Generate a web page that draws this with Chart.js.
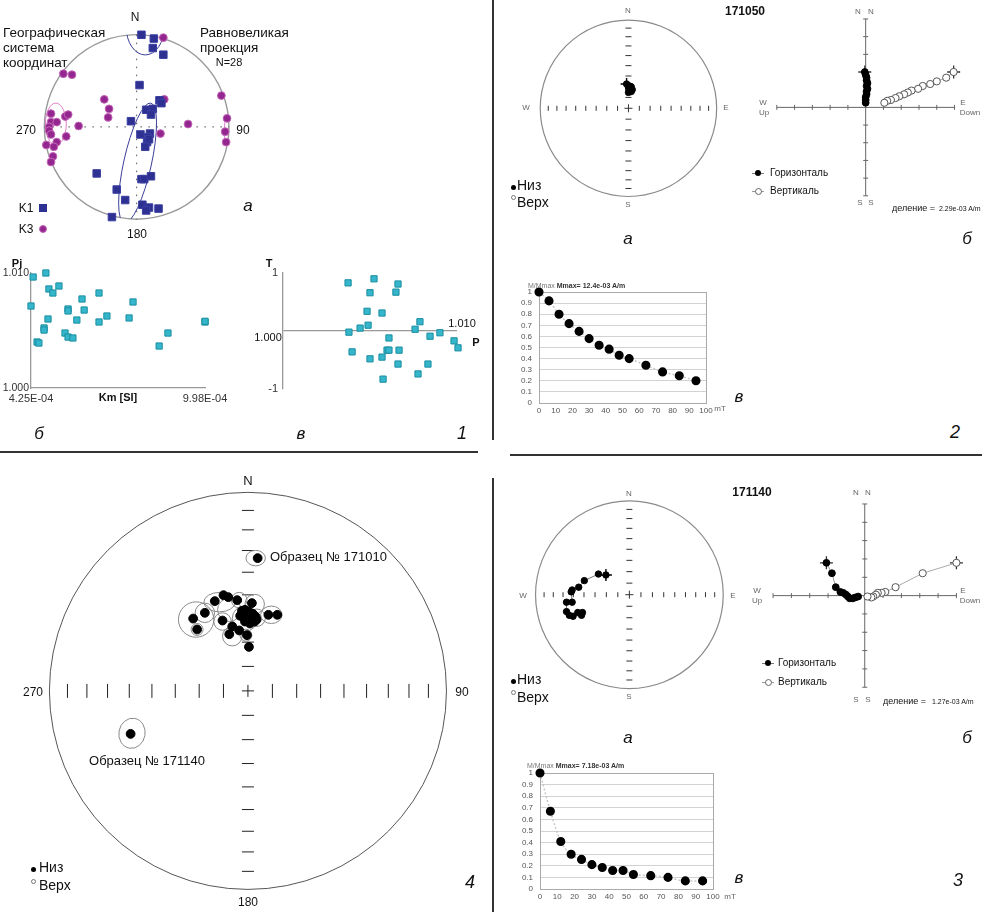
<!DOCTYPE html>
<html>
<head>
<meta charset="utf-8">
<script src="https://cdn.jsdelivr.net/npm/chart.js@4.4.0/dist/chart.umd.min.js"></script>
<style>
  body { margin: 0; background: #fff; width: 982px; height: 912px; position: relative; overflow: hidden;
         font-family: 'Liberation Sans', Arial, sans-serif; color: #111; }
  canvas { position: absolute; }
  .t { position: absolute; white-space: nowrap; line-height: 1; }
  .f14 { font-size: 14px; } .f135 { font-size: 13.5px; } .f13 { font-size: 13px; } .f12 { font-size: 12px; }
  .f11 { font-size: 11px; } .f10 { font-size: 10px; } .f9 { font-size: 9px; } .f7 { font-size: 7px; }
  .b11 { font-size: 11px; font-weight: bold; } .b12 { font-size: 12px; font-weight: bold; }
  .g8 { font-size: 8px; color: #666; }
  .it17 { font-size: 17px; font-style: italic; } .it18 { font-size: 18px; font-style: italic; }
  .mk { position: absolute; box-sizing: border-box; }
  .rule { position: absolute; background: #333; }
</style>
</head>
<body>
<script>
// --- AMS stereonet (panel 1a), equal-area coordinates, unit circle ---
const k1East = [0.052, 0.186, 0.175, 0.289, 0.031, 0.247, 0.268, 0.103, 0.175, 0.155, -0.062, 0.041, 0.144, 0.124,
                0.113, 0.093, -0.433, 0.052, 0.082, 0.155, -0.216, -0.124, 0.062, 0.134, 0.103, 0.237, -0.268, 0.134];
const k1North = [1.000, 0.959, 0.856, 0.784, 0.454, 0.289, 0.258, 0.186, 0.196, 0.134, 0.062, -0.082, -0.072, -0.113,
                 -0.165, -0.216, -0.505, -0.567, -0.567, -0.536, -0.680, -0.794, -0.845, -0.876, -0.907, -0.887, -0.979, -0.134];
const k3East = [0.289, -0.794, -0.701, -0.351, -0.299, -0.309, 0.299, 0.918, -0.928, -0.773, -0.742, -0.928, -0.866, -0.948,
                -0.948, -0.928, -0.629, -0.763, 0.557, 0.979, 0.959, 0.969, 0.258, -0.866, -0.979, -0.897, -0.907, -0.928];
const k3North = [0.969, 0.577, 0.567, 0.299, 0.196, 0.103, 0.299, 0.340, 0.144, 0.113, 0.134, 0.052, 0.052, 0.000,
                 -0.041, -0.082, 0.010, -0.103, 0.031, 0.093, -0.052, -0.165, -0.072, -0.165, -0.196, -0.216, -0.320, -0.381];
// confidence ellipses: [east, north, semi-axis x, semi-axis y, rotation deg]
const k1Ovals = [[0.010, -0.392, 0.15, 0.665, 12.5], [0.093, 1.082, 0.206, 0.30, 0]];
const k3Ovals = [[-0.876, 0.031, 0.113, 0.227, 0], [0.979, -0.041, 0.03, 0.14, 0]];

// --- Pj vs Km (1б) and T vs P (1в) ---
const kmValues = [4.32e-4, 4.74e-4, 4.84e-4, 4.97e-4, 5.17e-4, 4.25e-4, 4.81e-4, 4.68e-4, 4.68e-4, 4.45e-4, 4.51e-4, 5.47e-4,
                  5.47e-4, 5.37e-4, 5.47e-4, 5.63e-4, 5.76e-4, 5.93e-4, 6.00e-4, 6.49e-4, 6.49e-4, 6.75e-4, 7.48e-4, 7.61e-4,
                  8.47e-4, 8.76e-4, 9.98e-4, 9.98e-4];
const pjValues = [1.00965, 1.0100, 1.00861, 1.00826, 1.00887, 1.00713, 1.00600, 1.00522, 1.00504, 1.00400, 1.00391, 1.00687,
                  1.00670, 1.00478, 1.00443, 1.00435, 1.00591, 1.00774, 1.00678, 1.00826, 1.00574, 1.00626, 1.00609, 1.00748,
                  1.00365, 1.00478, 1.00574, 1.00580];
const pValues = [1.00374, 1.00523, 1.00661, 1.00500, 1.00649, 1.00483, 1.00569, 1.00787, 1.00443, 1.00489, 1.00759, 1.00379,
                 1.00845, 1.00902, 1.00609, 1.00983, 1.01006, 1.00397, 1.00598, 1.00609, 1.00667, 1.00500, 1.00569, 1.00661,
                 1.00833, 1.00776, 1.00575];
const tValues = [0.83, 0.90, 0.81, 0.66, 0.67, 0.34, 0.31, 0.16, 0.05, 0.10, 0.03, -0.02, -0.09, -0.03, -0.12, -0.17, -0.29,
                 -0.36, -0.33, -0.33, -0.33, -0.48, -0.45, -0.57, -0.57, -0.74, -0.83];

// --- sample 171050 ---
const s050East = [-0.021, 0.011, 0.032, 0.000, 0.021, 0.043, 0.011, 0.032, 0.000];
const s050North = [0.277, 0.255, 0.245, 0.234, 0.223, 0.213, 0.202, 0.191, 0.181];
const z050HorE = [-0.05, 0, 0.05, 0.05, 0.1, 0.05, 0.1, 0.05, 0.05, 0, 0, 0];
const z050HorN = [2.0, 1.84, 1.68, 1.53, 1.37, 1.21, 1.05, 0.89, 0.74, 0.58, 0.42, 0.26];
const z050VerH = [4.95, 4.53, 4.0, 3.63, 3.21, 2.95, 2.58, 2.37, 2.16, 1.89, 1.68, 1.42, 1.21, 1.05];
const z050VerZ = [2.0, 1.68, 1.47, 1.32, 1.21, 1.05, 0.95, 0.84, 0.74, 0.63, 0.53, 0.42, 0.37, 0.26];

// --- sample 171140 ---
const s140East = [-0.25, -0.33, -0.48, -0.54, -0.61, -0.62, -0.61, -0.67, -0.67, -0.64, -0.60, -0.55, -0.50, -0.51];
const s140North = [0.21, 0.22, 0.15, 0.08, 0.05, 0.03, -0.08, -0.08, -0.18, -0.22, -0.23, -0.19, -0.19, -0.22];
const z140HorE = [-2.09, -1.79, -1.58, -1.33, -1.17, -1.02, -0.92, -0.82, -0.66, -0.51, -0.36];
const z140HorN = [1.79, 1.22, 0.46, 0.20, 0.15, 0.05, -0.05, -0.15, -0.15, -0.10, -0.05];
const z140VerH = [5.0, 3.16, 1.68, 1.12, 0.92, 0.71, 0.61, 0.46, 0.36, 0.15];
const z140VerZ = [1.79, 1.22, 0.46, 0.20, 0.15, 0.15, 0.05, -0.05, -0.10, -0.05];

// --- AF demagnetisation (M/Mmax vs mT) ---
const demagField = [0, 6, 12, 18, 24, 30, 36, 42, 48, 54, 64, 74, 84, 94];
const demag050 = [1.0, 0.92, 0.80, 0.715, 0.645, 0.58, 0.52, 0.485, 0.43, 0.40, 0.34, 0.28, 0.245, 0.20];
const demag140 = [1.0, 0.67, 0.41, 0.30, 0.255, 0.21, 0.185, 0.16, 0.16, 0.125, 0.115, 0.10, 0.07, 0.07];

// --- panel 4: sample mean directions ---
const meanEast = [-0.276, -0.256, -0.217, -0.167, -0.123, -0.099, -0.054, 0.020, -0.128, -0.079, -0.094, -0.044, -0.005, 0.005,
                  -0.030, -0.015, 0.005, 0.025, -0.039, -0.025, -0.005, 0.020, 0.039, -0.015, 0.010, 0.034, 0.103, 0.148,
                  0.044, 0.049, -0.591];
const meanNorth = [0.365, 0.310, 0.394, 0.453, 0.483, 0.473, 0.458, 0.443, 0.355, 0.325, 0.286, 0.305, 0.281, 0.222,
                   0.404, 0.409, 0.399, 0.389, 0.379, 0.374, 0.369, 0.365, 0.374, 0.350, 0.340, 0.350, 0.384, 0.384,
                   0.360, 0.670, -0.217];
const a95Ovals = [[-0.261, 0.360, 0.089, 0.089, 0], [-0.217, 0.394, 0.049, 0.049, 0], [-0.143, 0.448, 0.079, 0.049, 0],
                  [-0.044, 0.458, 0.039, 0.039, 0], [0.034, 0.438, 0.049, 0.049, 0], [-0.128, 0.350, 0.044, 0.044, 0],
                  [-0.079, 0.276, 0.049, 0.049, 0], [-0.010, 0.281, 0.030, 0.030, 0], [-0.015, 0.365, 0.064, 0.064, 0],
                  [0.044, 0.369, 0.044, 0.044, 0], [0.118, 0.384, 0.054, 0.044, 0], [-0.256, 0.310, 0.030, 0.030, 0],
                  [-0.094, 0.409, 0.059, 0.059, 0], [0.039, 0.670, 0.049, 0.039, 0], [-0.584, -0.214, 0.066, 0.076, 10]];

Chart.defaults.font.family = "'Liberation Sans', Arial, sans-serif";
Chart.defaults.color = '#333';
Chart.defaults.animation = false;
Chart.defaults.events = [];
Chart.defaults.responsive = false;
Chart.defaults.maintainAspectRatio = false;
Chart.defaults.plugins.legend.display = false;
Chart.defaults.plugins.tooltip.enabled = false;

const xy = (xs, ys) => xs.map((v, i) => ({x: v, y: ys[i]}));

function mkCanvas(l, t, w, h) {
  const c = document.createElement('canvas');
  c.width = w; c.height = h;
  c.style.left = l + 'px'; c.style.top = t + 'px';
  document.body.appendChild(c);
  return c;
}

function txt(s, x, y, cls, anchor) {
  const d = document.createElement('div');
  d.className = 't ' + cls;
  d.textContent = s;
  d.style.left = x + 'px'; d.style.top = y + 'px';
  const tx = anchor === 'l' ? '0' : anchor === 'r' ? '-100%' : '-50%';
  d.style.transform = 'translate(' + tx + ',-50%)';
  document.body.appendChild(d);
  return d;
}

function mark(x, y, w, h, fill, border, round) {
  const d = document.createElement('div');
  d.className = 'mk';
  Object.assign(d.style, {left: (x - w / 2) + 'px', top: (y - h / 2) + 'px', width: w + 'px', height: h + 'px',
    background: fill, border: border ? '1px solid ' + border : 'none', borderRadius: round ? '50%' : '0'});
  document.body.appendChild(d);
}

function rule(l, t, w, h) {
  const d = document.createElement('div');
  d.className = 'rule';
  Object.assign(d.style, {left: l + 'px', top: t + 'px', width: w + 'px', height: h + 'px'});
  document.body.appendChild(d);
}

// axis ranges so that data (0,0) sits at page point (cx, cy) and 1 unit = `unit` px
function frame(l, t, w, h, cx, cy, unit) {
  return {
    x: {type: 'linear', display: false, min: (l - cx) / unit, max: (l + w - cx) / unit},
    y: {type: 'linear', display: false, min: (cy - t - h) / unit, max: (cy - t) / unit}
  };
}

const INC_TICKS = [10, 20, 30, 40, 50, 60, 70, 80];

const netPlugin = {
  id: 'net',
  beforeDatasetsDraw(chart, args, o) {
    const ctx = chart.ctx, sx = chart.scales.x, sy = chart.scales.y;
    const cx = sx.getPixelForValue(0), cy = sy.getPixelForValue(0);
    const R = sx.getPixelForValue(1) - cx;
    ctx.save();
    ctx.lineWidth = o.circleWidth;
    ctx.strokeStyle = o.circle;
    ctx.beginPath(); ctx.arc(cx, cy, R, 0, Math.PI * 2); ctx.stroke();
    ctx.strokeStyle = o.tickColor;
    ctx.lineWidth = 1;
    ctx.beginPath();
    if (o.dotted) {
      ctx.setLineDash([1.6, 6.4]);
      ctx.moveTo(cx - R, cy); ctx.lineTo(cx + R, cy);
      ctx.moveTo(cx, cy - R); ctx.lineTo(cx, cy + R);
      ctx.stroke();
      ctx.setLineDash([]);
    } else {
      INC_TICKS.forEach(inc => {
        const r = R * Math.SQRT2 * Math.sin((90 - inc) * Math.PI / 360);
        [-1, 1].forEach(s => {
          ctx.moveTo(cx + s * r, cy - o.tv); ctx.lineTo(cx + s * r, cy + o.tv);
          ctx.moveTo(cx - o.th, cy + s * r); ctx.lineTo(cx + o.th, cy + s * r);
        });
      });
      ctx.moveTo(cx - o.cross, cy); ctx.lineTo(cx + o.cross, cy);
      ctx.moveTo(cx, cy - o.cross); ctx.lineTo(cx, cy + o.cross);
      ctx.stroke();
    }
    ctx.beginPath(); ctx.arc(cx, cy, R, 0, Math.PI * 2); ctx.clip();
    const drawOvals = (list, color) => {
      if (!list) return;
      ctx.strokeStyle = color;
      list.forEach(e => {
        ctx.beginPath();
        ctx.ellipse(sx.getPixelForValue(e[0]), sy.getPixelForValue(e[1]), e[2] * R, e[3] * R,
                    e[4] * Math.PI / 180, 0, Math.PI * 2);
        ctx.stroke();
      });
    };
    ctx.lineWidth = 1;
    drawOvals(o.ovals, o.ovalColor);
    drawOvals(o.ovals2, o.ovalColor2);
    ctx.restore();
  }
};

const zijPlugin = {
  id: 'zij',
  beforeDatasetsDraw(chart, args, o) {
    const ctx = chart.ctx, sx = chart.scales.x, sy = chart.scales.y;
    const px = v => sx.getPixelForValue(v), py = v => sy.getPixelForValue(v);
    ctx.save();
    ctx.strokeStyle = '#666'; ctx.lineWidth = 1;
    ctx.beginPath();
    ctx.moveTo(px(-o.ext), py(0)); ctx.lineTo(px(o.ext), py(0));
    ctx.moveTo(px(0), py(o.ext)); ctx.lineTo(px(0), py(-o.ext));
    for (let k = 1; k <= o.ext; k++) {
      [-1, 1].forEach(s => {
        ctx.moveTo(px(s * k), py(0) - o.tick); ctx.lineTo(px(s * k), py(0) + o.tick);
        ctx.moveTo(px(0) - o.tick, py(s * k)); ctx.lineTo(px(0) + o.tick, py(s * k));
      });
    }
    ctx.stroke();
    ctx.restore();
  }
};

const boxPlugin = {
  id: 'box',
  beforeDatasetsDraw(chart, args, o) {
    const a = chart.chartArea, ctx = chart.ctx;
    ctx.save();
    ctx.strokeStyle = o.color; ctx.lineWidth = 1;
    ctx.strokeRect(a.left + 0.5, a.top + 0.5, a.right - a.left, a.bottom - a.top);
    ctx.restore();
  }
};

function stereoSample(box, cx, cy, R, east, north) {
  const c = mkCanvas(...box);
  return new Chart(c, {
    type: 'scatter',
    data: {datasets: [
      {data: xy(east, north), showLine: true, borderColor: '#777', borderWidth: 1, pointRadius: 3.2,
       pointBackgroundColor: '#000', pointBorderColor: '#000'},
      {data: xy(east.slice(0, 1), north.slice(0, 1)), pointStyle: 'cross', pointRadius: 6,
       pointBorderColor: '#000', pointBorderWidth: 1.4}
    ]},
    options: {
      layout: {padding: 0},
      scales: frame(...box, cx, cy, R),
      plugins: {net: {circle: '#8a8a8a', circleWidth: 1.2, tickColor: '#333', tv: 2.5, th: 3, cross: 4}}
    },
    plugins: [netPlugin]
  });
}

function zijChart(box, cx, cy, unit, hE, hN, vH, vZ) {
  const c = mkCanvas(...box);
  return new Chart(c, {
    type: 'scatter',
    data: {datasets: [
      {data: xy(hE, hN), showLine: true, borderColor: '#999', borderWidth: 1, pointRadius: 3.4,
       pointBackgroundColor: '#000', pointBorderColor: '#000'},
      {data: xy(vH, vZ), showLine: true, borderColor: '#aaa', borderWidth: 1, pointRadius: 3.6,
       pointBackgroundColor: '#fff', pointBorderColor: '#555', pointBorderWidth: 1},
      {data: [{x: hE[0], y: hN[0]}, {x: vH[0], y: vZ[0]}], pointStyle: 'cross', pointRadius: 6.5,
       pointBorderColor: '#333', pointBorderWidth: 1.3}
    ]},
    options: {
      layout: {padding: 0},
      scales: frame(...box, cx, cy, unit),
      plugins: {zij: {ext: 5, tick: 2.5}}
    },
    plugins: [zijPlugin]
  });
}

function demagChart(box, area, values) {
  const [l, t, w, h] = box;
  const c = mkCanvas(...box);
  return new Chart(c, {
    type: 'scatter',
    data: {datasets: [{
      data: xy(demagField, values), showLine: true, cubicInterpolationMode: 'monotone',
      borderColor: '#c8c8c8', borderWidth: 1.5, borderDash: [2, 2],
      pointRadius: 3.8, pointBackgroundColor: '#000', pointBorderColor: '#000', clip: false
    }]},
    options: {
      layout: {padding: {top: area[1] - t, right: l + w - area[2], left: 0, bottom: 0}},
      scales: {
        x: {min: 0, max: 100, ticks: {stepSize: 10, font: {size: 8}, color: '#555', padding: 3, maxRotation: 0, autoSkip: false},
            grid: {display: false, drawTicks: false}, border: {color: '#888'},
            afterFit: s => { s.height = t + h - area[3]; }},
        y: {min: 0, max: 1, ticks: {stepSize: 0.1, font: {size: 8}, color: '#555', padding: 7, autoSkip: false,
            callback: v => String(Math.round(v * 10) / 10)},
            grid: {color: '#d2d2d2', drawTicks: false}, border: {color: '#888'},
            afterFit: s => { s.width = area[0] - l; }}
      },
      plugins: {box: {color: '#aaa'}}
    },
    plugins: [boxPlugin]
  });
}

const fmtE = v => {
  const [m, e] = v.toExponential(2).split('e');
  return m + 'E' + (+e < 0 ? '-' : '+') + String(Math.abs(+e)).padStart(2, '0');
};

// ---------- panel 1a: AMS stereonet ----------
new Chart(mkCanvas(0, 0, 260, 250), {
  type: 'scatter',
  data: {datasets: [
    {data: xy(k1East, k1North), pointStyle: 'rect', pointRadius: 5.3, pointBackgroundColor: '#2e3192',
     pointBorderColor: '#3a3fa0', pointBorderWidth: 1},
    {data: xy(k3East, k3North), pointStyle: 'circle', pointRadius: 3.9, pointBackgroundColor: '#93278f',
     pointBorderColor: '#c466b8', pointBorderWidth: 1}
  ]},
  options: {
    layout: {padding: 0},
    scales: frame(0, 0, 260, 250, 137, 127, 97),
    plugins: {net: {circle: '#9a9a9a', circleWidth: 1.4, tickColor: '#555', dotted: true,
                    ovals: k1Ovals, ovalColor: '#3b3f99', ovals2: k3Ovals, ovalColor2: '#dc82c6'}}
  },
  plugins: [netPlugin]
});

// ---------- panel 1б: Pj vs Km ----------
new Chart(mkCanvas(0, 255, 240, 160), {
  type: 'scatter',
  data: {datasets: [{data: xy(kmValues, pjValues), pointStyle: 'rect', pointRadius: 4.4,
    pointBackgroundColor: '#35b6cb', pointBorderColor: '#1b8ea3', pointBorderWidth: 1, clip: false}]},
  options: {
    layout: {padding: {top: 18, right: 35, left: 0, bottom: 0}},
    scales: {
      x: {min: 4.25e-4, max: 9.98e-4, grid: {display: false, drawTicks: false}, border: {color: '#999', width: 1.3},
          afterBuildTicks: s => { s.ticks = [{value: 4.25e-4}, {value: 9.98e-4}]; },
          ticks: {callback: v => fmtE(v), font: {size: 11}, color: '#333', padding: 4, maxRotation: 0, autoSkip: false},
          afterFit: s => { s.height = 27; }},
      y: {min: 1.000, max: 1.010, grid: {display: false, drawTicks: false}, border: {color: '#999', width: 1.3},
          afterBuildTicks: s => { s.ticks = [{value: 1.000}, {value: 1.010}]; },
          ticks: {callback: v => v.toFixed(3), font: {size: 10.5}, color: '#333', padding: 2},
          afterFit: s => { s.width = 31; }}
    }
  }
});

// ---------- panel 1в: T vs P ----------
new Chart(mkCanvas(245, 255, 230, 160), {
  type: 'scatter',
  data: {datasets: [{data: xy(pValues, tValues), pointStyle: 'rect', pointRadius: 4.4,
    pointBackgroundColor: '#35b6cb', pointBorderColor: '#1b8ea3', pointBorderWidth: 1, clip: false}]},
  options: {
    layout: {padding: {top: 18, right: 18, left: 0, bottom: 26}},
    scales: {
      x: {min: 1.000, max: 1.010, display: false},
      y: {min: -1, max: 1, border: {color: '#999', width: 1.3},
          grid: {drawTicks: false, lineWidth: 1.3, color: c => (c.tick && c.tick.value === 0) ? '#999' : 'rgba(0,0,0,0)'},
          afterBuildTicks: s => { s.ticks = [{value: -1}, {value: 0}, {value: 1}]; },
          ticks: {callback: v => v === 0 ? '' : String(v), font: {size: 11}, color: '#333', padding: 5},
          afterFit: s => { s.width = 38; }}
    }
  }
});

// ---------- panel 2: sample 171050 ----------
stereoSample([500, 0, 240, 225], 629, 108, 94, s050East, s050North);
zijChart([740, 0, 242, 225], 866, 107, 19, z050HorE, z050HorN, z050VerH, z050VerZ);
demagChart([500, 270, 260, 150], [539, 292, 706, 403], demag050);

// ---------- panel 3: sample 171140 ----------
stereoSample([500, 470, 240, 240], 630, 595, 100, s140East, s140North);
zijChart([740, 470, 242, 240], 865, 596, 19.6, z140HorE, z140HorN, z140VerH, z140VerZ);
demagChart([500, 750, 260, 162], [540, 773, 713, 889], demag140);

// ---------- panel 4: sample means ----------
new Chart(mkCanvas(0, 460, 490, 452), {
  type: 'scatter',
  data: {datasets: [{data: xy(meanEast, meanNorth), pointRadius: 4.4, pointBackgroundColor: '#000', pointBorderColor: '#000'}]},
  options: {
    layout: {padding: 0},
    scales: frame(0, 460, 490, 452, 248, 691, 203),
    plugins: {net: {circle: '#555', circleWidth: 1, tickColor: '#222', tv: 7, th: 6, cross: 6,
                    ovals: a95Ovals, ovalColor: '#8a8a8a'}}
  },
  plugins: [netPlugin]
});

// ---------- text and legends ----------
const labels = [
  ['Географическая', 3, 33, 'f135', 'l'], ['система', 3, 48, 'f135', 'l'], ['координат', 3, 63, 'f135', 'l'],
  ['Равновеликая', 200, 33, 'f135', 'l'], ['проекция', 200, 48, 'f135', 'l'], ['N=28', 229, 62, 'f11', 'c'],
  ['N', 135, 17, 'f12', 'c'], ['270', 26, 130, 'f12', 'c'], ['90', 243, 130, 'f12', 'c'], ['180', 137, 234, 'f12', 'c'],
  ['а', 248, 205, 'it17', 'c'], ['K1', 26, 208, 'f12', 'c'], ['K3', 26, 229, 'f12', 'c'],
  ['Pj', 17, 263, 'b11', 'c'], ['Km [SI]', 118, 397, 'b11', 'c'], ['б', 39, 433, 'it17', 'c'],
  ['T', 269, 263, 'b11', 'c'], ['1.000', 268, 337, 'f11', 'c'], ['1.010', 462, 323, 'f11', 'c'], ['P', 476, 342, 'b11', 'c'],
  ['в', 301, 433, 'it17', 'c'], ['1', 462, 433, 'it18', 'c'],

  ['171050', 745, 11, 'b12', 'c'],
  ['N', 628, 11, 'g8', 'c'], ['S', 628, 205, 'g8', 'c'], ['W', 526, 108, 'g8', 'c'], ['E', 726, 108, 'g8', 'c'],
  ['Низ', 517, 185, 'f14', 'l'], ['Верх', 517, 202, 'f14', 'l'], ['а', 628, 238, 'it17', 'c'],
  ['N', 858, 12, 'g8', 'c'], ['N', 871, 12, 'g8', 'c'], ['S', 860, 203, 'g8', 'c'], ['S', 871, 203, 'g8', 'c'],
  ['W', 763, 103, 'g8', 'c'], ['Up', 764, 113, 'g8', 'c'], ['E', 963, 103, 'g8', 'c'], ['Down', 970, 113, 'g8', 'c'],
  ['Горизонталь', 770, 173, 'f10', 'l'], ['Вертикаль', 770, 191, 'f10', 'l'],
  ['деление =', 892, 208, 'f9', 'l'], ['2.29e-03 A/m', 939, 208, 'f7', 'l'], ['б', 967, 238, 'it17', 'c'],
  ['mT', 720, 409, 'g8', 'c'], ['в', 739, 396, 'it17', 'c'], ['2', 955, 432, 'it18', 'c'],

  ['171140', 752, 492, 'b12', 'c'],
  ['N', 629, 494, 'g8', 'c'], ['S', 629, 697, 'g8', 'c'], ['W', 523, 596, 'g8', 'c'], ['E', 733, 596, 'g8', 'c'],
  ['Низ', 517, 679, 'f14', 'l'], ['Верх', 517, 697, 'f14', 'l'], ['а', 628, 737, 'it17', 'c'],
  ['N', 856, 493, 'g8', 'c'], ['N', 868, 493, 'g8', 'c'], ['S', 856, 700, 'g8', 'c'], ['S', 868, 700, 'g8', 'c'],
  ['W', 757, 591, 'g8', 'c'], ['Up', 757, 601, 'g8', 'c'], ['E', 963, 591, 'g8', 'c'], ['Down', 970, 601, 'g8', 'c'],
  ['Горизонталь', 778, 663, 'f10', 'l'], ['Вертикаль', 778, 682, 'f10', 'l'],
  ['деление =', 883, 701, 'f9', 'l'], ['1.27e-03 A/m', 932, 701, 'f7', 'l'], ['б', 967, 737, 'it17', 'c'],
  ['mT', 730, 897, 'g8', 'c'], ['в', 739, 877, 'it17', 'c'], ['3', 958, 880, 'it18', 'c'],

  ['N', 248, 480, 'f13', 'c'], ['270', 33, 692, 'f12', 'c'], ['90', 462, 692, 'f12', 'c'], ['180', 248, 902, 'f12', 'c'],
  ['Образец № 171010', 270, 556, 'f13', 'l'], ['Образец № 171140', 147, 760, 'f13', 'c'],
  ['Низ', 39, 867, 'f14', 'l'], ['Верх', 39, 885, 'f14', 'l'], ['4', 470, 882, 'it18', 'c']
];
labels.forEach(a => txt(...a));

// demag chart captions
[[528, 285, '12.4e-03'], [527, 765, '7.18e-03']].forEach(([x, y, v]) => {
  const d = txt('', x, y, 'f7', 'l');
  d.innerHTML = '<span style="color:#777">M/Mmax </span><b style="color:#333">Mmax= ' + v + ' A/m</b>';
});

// legend marks
mark(43, 208, 8, 8, '#2e3192', null, false);
mark(43, 229, 8, 8, '#93278f', '#c466b8', true);
[[513, 187, 197], [513, 681, 692], [33, 869, 881]].forEach(([x, y1, y2]) => {
  mark(x, y1, 5, 5, '#000', null, true);
  mark(x, y2, 5, 5, '#fff', '#777', true);
});
[[752, 764, 173, 191], [762, 774, 663, 682]].forEach(([x1, x2, y1, y2]) => {
  mark((x1 + x2) / 2, y1, x2 - x1, 1, '#777', null, false);
  mark((x1 + x2) / 2, y1, 6, 6, '#000', null, true);
  mark((x1 + x2) / 2, y2, x2 - x1, 1, '#999', null, false);
  mark((x1 + x2) / 2, y2, 7, 7, '#fff', '#666', true);
});

// panel separators
rule(0, 451, 478, 2);
rule(492, 0, 2, 440);
rule(492, 478, 2, 434);
rule(510, 454, 472, 1.5);
</script>
</body>
</html>
